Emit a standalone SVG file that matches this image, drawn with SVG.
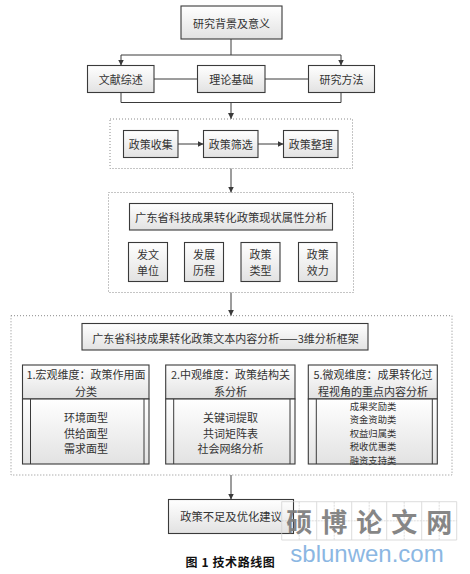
<svg xmlns="http://www.w3.org/2000/svg" width="470" height="574" viewBox="0 0 470 574">
<defs>
<linearGradient id="g" x1="0" y1="0" x2="0" y2="1">
<stop offset="0" stop-color="#ffffff"/>
<stop offset="1" stop-color="#e2e2e2"/>
</linearGradient>
<marker id="ah" markerUnits="userSpaceOnUse" markerWidth="7" markerHeight="7" refX="6" refY="3" orient="auto">
<path d="M0,0 L6,3 L0,6 z" fill="#3a3a3a"/>
</marker>
<style>
.box{fill:url(#g);stroke:#3a3a3a;stroke-width:1.1}
.dot{fill:none;stroke:#8a8a8a;stroke-width:1;stroke-dasharray:1 2}
.t{font-family:"Noto Sans CJK SC","Liberation Sans",sans-serif;font-size:11px;fill:#333;text-anchor:middle;dominant-baseline:central}
.h{font-size:11px}
.s{font-size:9.3px}
.c{fill:none;stroke:#3a3a3a;stroke-width:1}
.a{marker-end:url(#ah)}
.wm{font-family:"Noto Sans CJK SC",sans-serif;font-weight:700;font-size:26px;fill:#7a7a7a;text-anchor:middle;dominant-baseline:central}
.grid{fill:none;stroke:#cfcfcf;stroke-width:0.8}
</style>
</defs>
<rect width="470" height="574" fill="#ffffff"/>

<g id="connectors">
<path class="c" d="M231,39 V55 M121,55 H341"/>
<path class="c a" d="M121,55 V65.5"/>
<path class="c a" d="M341,55 V65.5"/>
<path class="c" d="M154,79 H197.5 M265,79 H308.5"/>
<path class="c" d="M121,92.5 V102.5 H341 V92.5"/>
<path class="c a" d="M231,102.5 V119"/>
<path class="c a" d="M178,144 H203.5"/>
<path class="c a" d="M258,144 H283.5"/>
<path class="c a" d="M231,168.5 V192.5"/>
<path class="c a" d="M231,292.5 V315.7"/>
<path class="c a" d="M231,475 V499.5"/>
</g>

<g id="n_bg">
<rect class="box" x="181" y="6" width="101" height="33"/>
<text class="t" x="231.5" y="22.5">研究背景及意义</text>
</g>
<g id="n_wxzs">
<rect class="box" x="87.5" y="65.5" width="66.5" height="27"/>
<text class="t" x="120.75" y="79">文献综述</text>
</g>
<g id="n_lljc">
<rect class="box" x="197.5" y="65.5" width="67.5" height="27"/>
<text class="t" x="231.25" y="79">理论基础</text>
</g>
<g id="n_yjff">
<rect class="box" x="308.5" y="65.5" width="66" height="27"/>
<text class="t" x="341.5" y="79">研究方法</text>
</g>

<g id="grp_policy">
<rect class="dot" x="110" y="119" width="242.5" height="49.5"/>
</g>
<g id="n_sj">
<rect class="box" x="123.5" y="130.5" width="54.5" height="27"/>
<text class="t" x="150.75" y="144">政策收集</text>
</g>
<g id="n_sx">
<rect class="box" x="203.5" y="130.5" width="54.5" height="27"/>
<text class="t" x="230.75" y="144">政策筛选</text>
</g>
<g id="n_zl">
<rect class="box" x="283.5" y="130.5" width="54.5" height="27"/>
<text class="t" x="310.75" y="144">政策整理</text>
</g>

<g id="grp_attr">
<rect class="dot" x="108.5" y="192.5" width="245" height="100"/>
</g>
<g id="n_attr_title">
<rect class="box" x="129.5" y="203.5" width="203" height="26.5"/>
<text class="t" x="231" y="217" style="font-size:11.3px">广东省科技成果转化政策现状属性分析</text>
</g>
<g id="n_fwdw">
<rect class="box" x="128.5" y="242.5" width="39" height="39"/>
<text class="t" x="148" y="254">发文</text>
<text class="t" x="148" y="270">单位</text>
</g>
<g id="n_fzlc">
<rect class="box" x="184.5" y="242.5" width="39" height="39"/>
<text class="t" x="204" y="254">发展</text>
<text class="t" x="204" y="270">历程</text>
</g>
<g id="n_zclx">
<rect class="box" x="241" y="242.5" width="39" height="39"/>
<text class="t" x="260.5" y="254">政策</text>
<text class="t" x="260.5" y="270">类型</text>
</g>
<g id="n_zcxl">
<rect class="box" x="298.5" y="242.5" width="38.5" height="39"/>
<text class="t" x="317.75" y="254">政策</text>
<text class="t" x="317.75" y="270">效力</text>
</g>

<g id="grp_content">
<rect class="dot" x="11" y="315.7" width="441" height="159.3"/>
</g>
<g id="n_content_title">
<rect class="box" x="82" y="323.5" width="286" height="26.5"/>
<text class="t" x="225.5" y="337.5">广东省科技成果转化政策文本内容分析——3维分析框架</text>
</g>

<g id="n_macro">
<rect class="box" x="22.5" y="365" width="126.5" height="34"/>
<rect class="box" x="22.5" y="399" width="126.5" height="65"/>
<path class="c" d="M30.5,399 V464 M144,399 V464"/>
<text class="t h" x="86" y="374">1.宏观维度：政策作用面</text>
<text class="t h" x="86" y="390.5">分类</text>
<text class="t" x="86" y="417">环境面型</text>
<text class="t" x="86" y="432.5">供给面型</text>
<text class="t" x="86" y="448">需求面型</text>
</g>
<g id="n_meso">
<rect class="box" x="165.7" y="365" width="129.3" height="34"/>
<rect class="box" x="165.7" y="399" width="129.3" height="65"/>
<path class="c" d="M173.7,399 V464 M290,399 V464"/>
<text class="t h" x="230.5" y="374">2.中观维度：政策结构关</text>
<text class="t h" x="230.5" y="390.5">系分析</text>
<text class="t" x="230.5" y="417">关键词提取</text>
<text class="t" x="230.5" y="432.5">共词矩阵表</text>
<text class="t" x="230.5" y="448">社会网络分析</text>
</g>
<g id="n_micro">
<rect class="box" x="308.3" y="365" width="129" height="34"/>
<rect class="box" x="308.3" y="399" width="129" height="65"/>
<path class="c" d="M316.3,399 V464 M432.3,399 V464"/>
<text class="t h" x="373" y="374">5.微观维度：成果转化过</text>
<text class="t h" x="373" y="390.5">程视角的重点内容分析</text>
<text class="t s" x="373" y="405.5">成果奖励类</text>
<text class="t s" x="373" y="419">资金资助类</text>
<text class="t s" x="373" y="432.5">权益归属类</text>
<text class="t s" x="373" y="446">税收优惠类</text>
<text class="t s" x="373" y="459.5">融资支持类</text>
</g>

<g id="n_final">
<rect class="box" x="168.5" y="499.5" width="125" height="34"/>
<text class="t" x="231" y="516" style="font-size:11.3px">政策不足及优化建议</text>
</g>

<g id="caption">
<text x="230.5" y="561" style="font-family:'Noto Sans CJK SC','Liberation Sans',sans-serif;font-size:12px;font-weight:700;fill:#111;text-anchor:middle;dominant-baseline:central;letter-spacing:0.6px" xml:space="preserve">图 1 技术路线图</text>
</g>

<g id="watermark" opacity="0.9">
<path class="grid" d="M281.7,501.7 H456.7 V540 H281.7 Z M316.7,501.7 V540 M351.7,501.7 V540 M386.7,501.7 V540 M421.7,501.7 V540"/>
<path class="grid" d="M281.7,520.8 H456.7 M299.2,501.7 V540 M334.2,501.7 V540 M369.2,501.7 V540 M404.2,501.7 V540 M439.2,501.7 V540" stroke-dasharray="2 1"/>
<text class="wm" x="299.2" y="520">硕</text>
<text class="wm" x="334.2" y="520">博</text>
<text class="wm" x="369.2" y="520">论</text>
<text class="wm" x="404.2" y="520">文</text>
<text class="wm" x="439.2" y="520">网</text>
<text x="367" y="562" style="font-family:'Liberation Sans',sans-serif;font-size:24px;fill:#7fb0e0;text-anchor:middle">sblunwen.com</text>
</g>
</svg>
